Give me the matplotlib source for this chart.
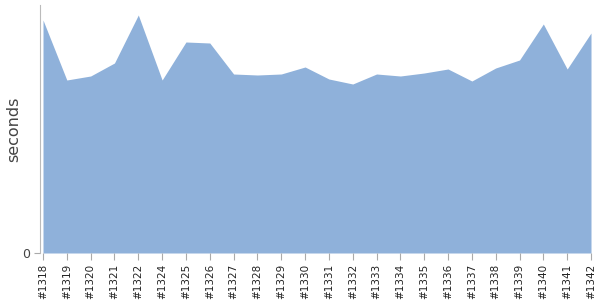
import numpy as np
import matplotlib
matplotlib.use("Agg")
import matplotlib.pyplot as plt

plt.rcParams['font.family'] = ['DejaVu Sans']

# build numbers and their durations (seconds)
builds = ['#1318', '#1319', '#1320', '#1321', '#1322', '#1324', '#1325', '#1326',
          '#1327', '#1328', '#1329', '#1330', '#1331', '#1332', '#1333', '#1334',
          '#1335', '#1336', '#1337', '#1338', '#1339', '#1340', '#1341', '#1342']
durations = [233, 173, 177, 190, 238, 173, 211, 210,
             179, 178, 179, 186, 174, 169, 179, 177,
             180, 184, 172, 185, 193, 229, 184, 220]

fig = plt.figure(figsize=(6, 3), dpi=100)
ax = fig.add_axes([40 / 600, 47 / 300, 551 / 600, 248 / 300])

x = np.arange(len(builds))
ax.fill_between(x, durations, 0, color='#8fb1da', linewidth=0)

ax.set_xlim(-3 / 23.8, len(builds) - 1)
ax.set_ylim(0, 248)

ax.set_xticks(x)
ax.set_xticklabels(builds, rotation=90, fontsize=7.5, color='#222222')
ax.set_yticks([0])
ax.set_yticklabels(['0'], fontsize=9, color='#444444')
ax.tick_params(axis='x', length=5, color='#aaaaaa', pad=3)
ax.tick_params(axis='y', length=4, color='#aaaaaa', pad=3)

for side in ['top', 'right', 'bottom']:
    ax.spines[side].set_visible(False)
ax.spines['left'].set_color('#bbbbbb')

ax.set_ylabel('seconds', fontsize=11.5, color='#444444')
ax.yaxis.set_label_coords(-19 / 551, 0.5)

fig.savefig('out.png', dpi=100)
